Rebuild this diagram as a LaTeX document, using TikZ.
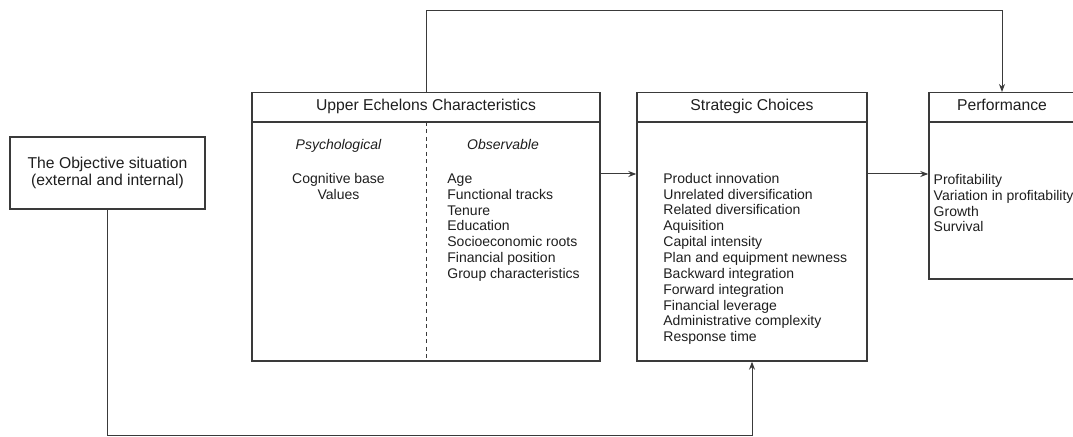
\documentclass[tikz,border=0pt]{standalone}
\usepackage{fontspec}
\setmainfont{Liberation Sans}
\usetikzlibrary{arrows.meta}
\definecolor{linegray}{HTML}{3A3A3A}
\definecolor{txtgray}{HTML}{1E1E1E}

\begin{document}
\begin{tikzpicture}[x=0.5pt, y=-0.5pt,
  box/.style={draw=linegray, line width=0.7pt, inner sep=0pt},
  head/.style={anchor=base, inner sep=0pt, text=txtgray, font=\fontsize{7.85}{8.85}\selectfont},
  ctr/.style={anchor=base, inner sep=0pt, text=txtgray, font=\fontsize{7}{8}\selectfont},
  item/.style={anchor=base west, inner sep=0pt, text=txtgray, font=\fontsize{7}{8}\selectfont},
  link/.style={draw=linegray, line width=0.5pt, -{Stealth[length=4pt,width=3pt]}}
]
\useasboundingbox (0,0) rectangle (1073,437);

\coordinate (top) at (0,11);
\coordinate (hl) at (0,122);
\coordinate (mid) at (0,174);
\coordinate (bot) at (0,436);

\node[box, minimum width=97.5pt, minimum height=36pt, align=center, text=txtgray,
  font=\fontsize{7.85}{8.85}\selectfont] (obj) at (107.5,173) {The Objective situation\\(external and internal)};

\node[box, minimum width=174pt, minimum height=134.15pt] (ue) at (426,226.85) {};
\node[box, minimum width=115pt, minimum height=134.15pt] (sc) at (752,226.85) {};
\node[box, minimum width=73pt, minimum height=93.15pt] (perf) at (1002,185.85) {};

\draw[box] (ue.west |- hl) -- (ue.east |- hl);
\draw[box] (sc.west |- hl) -- (sc.east |- hl);
\draw[box] (perf.west |- hl) -- (perf.east |- hl);
\draw[linegray, line width=0.5pt, dash pattern=on 2pt off 1.75pt] (ue.north |- hl) -- (ue.south);

\node[head] (uehead) at (426,110.7) {Upper Echelons Characteristics};
\node[head] (schead) at (752,110.7) {Strategic Choices};
\node[head] (perfhead) at (1002,111) {Performance};

\node[ctr, font=\fontsize{7}{8}\selectfont\itshape] (psy) at (338.5,150) {Psychological};
\node[ctr, font=\fontsize{7}{8}\selectfont\itshape] (obs) at (503,150) {Observable};

\foreach \t [count=\i] in {Cognitive base,Values}
  \node[ctr] (psy\i) at (338.5,{183.5+15.83*(\i-1)}) {\t};

\foreach \t [count=\i] in {Age,Functional tracks,Tenure,Education,Socioeconomic roots,
  Financial position,Group characteristics}
  \node[item] (obs\i) at (447,{183.5+15.83*(\i-1)}) {\t};

\foreach \t [count=\i] in {Product innovation,Unrelated diversification,Related diversification,
  Aquisition,Capital intensity,Plan and equipment newness,Backward integration,
  Forward integration,Financial leverage,Administrative complexity,Response time}
  \node[item] (sc\i) at (663,{183.3+15.84*(\i-1)}) {\t};

\foreach \t [count=\i] in {Profitability,Variation in profitability,Growth,Survival}
  \node[item] (perf\i) at (933.3,{184.5+15.8*(\i-1)}) {\t};

\draw[link] (ue.north) -- (ue.north |- top) -| (perf.north);
\draw[link] (obj.south) -- (obj.south |- bot) -| (sc.south);
\draw[link] (ue.east |- mid) -- (sc.west |- mid);
\draw[link] (sc.east |- mid) -- (perf.west |- mid);
\end{tikzpicture}
\end{document}
